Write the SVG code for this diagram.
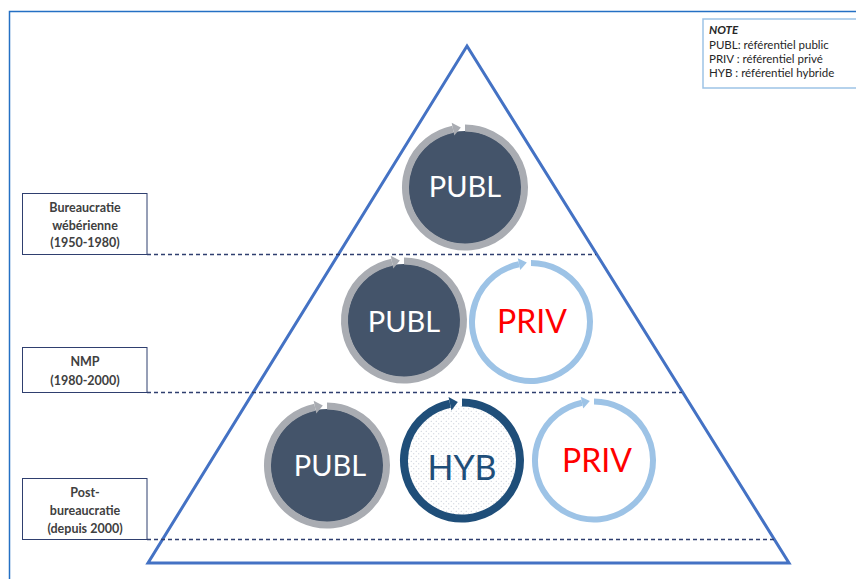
<svg xmlns="http://www.w3.org/2000/svg" width="856" height="579" viewBox="0 0 856 579">
<style>
.frame{stroke:#2470C4;stroke-width:1.5;fill:none}
.tri{stroke:#4472C4;stroke-width:3;fill:none;stroke-linejoin:miter}
.dash{stroke:#2F3F6F;stroke-width:1.3;stroke-dasharray:4 3;fill:none}
.lbox{fill:#fff;stroke:#2F3F6F;stroke-width:1}
.ltxt{font-family:Lato,"Liberation Sans",sans-serif;font-weight:bold;font-size:12.5px;fill:#404040;text-anchor:middle}
.note{fill:#fff;stroke:#9DC3E6;stroke-width:1.5}
.ntxt{font-family:Lato,"Liberation Sans",sans-serif;font-size:11.5px;fill:#262626}
.pubfill{fill:#44546A}
.ring-g{stroke:#A9ACB2;stroke-width:7;fill:none;marker-end:url(#ah-g)}
.ring-b{stroke:#9DC3E6;stroke-width:6;fill:none;marker-end:url(#ah-b)}
.ring-d{stroke:#1F4E79;stroke-width:8;fill:none;marker-end:url(#ah-d)}
.ctxt{font-family:Lato,"Liberation Sans",sans-serif;text-anchor:middle}
.publ{fill:#fff;font-size:29px}
.priv{fill:#FF0000;font-size:32px}
.hyb{fill:#1F4E79;font-size:34px}
</style>
<defs>
<marker id="ah-g" viewBox="-1 -8 10 16" markerWidth="10" markerHeight="16" refX="0" refY="0" markerUnits="userSpaceOnUse" orient="auto"><path d="M0,-6.5 L8,0 L0,6.5 z" fill="#A9ACB2"/></marker>
<marker id="ah-b" viewBox="-1 -8 10 16" markerWidth="10" markerHeight="16" refX="0" refY="0" markerUnits="userSpaceOnUse" orient="auto"><path d="M0,-6 L8,0 L0,6 z" fill="#9DC3E6"/></marker>
<marker id="ah-d" viewBox="-1 -8 10 16" markerWidth="10" markerHeight="16" refX="0" refY="0" markerUnits="userSpaceOnUse" orient="auto"><path d="M0,-7 L8,0 L0,7 z" fill="#1F4E79"/></marker>
<pattern id="dots" width="5" height="5" patternUnits="userSpaceOnUse">
<rect width="5" height="5" fill="#fff"/>
<circle cx="1.25" cy="1.25" r="0.55" fill="#BAC1CE"/>
<circle cx="3.75" cy="3.75" r="0.55" fill="#BAC1CE"/>
</pattern>
</defs>
<rect width="856" height="579" fill="#fff"/>
<g id="frame">
<path class="frame" d="M9.5,579 L9.5,11.5 L856,11.5"/>
</g>
<g id="note">
<rect class="note" x="703" y="19" width="160" height="69"/>
<text class="ntxt" x="709" y="34" font-weight="bold" font-style="italic">NOTE</text>
<text class="ntxt" x="709" y="49">PUBL: référentiel public</text>
<text class="ntxt" x="709" y="63">PRIV : référentiel privé</text>
<text class="ntxt" x="709" y="77">HYB : référentiel hybride</text>
</g>
<g id="pyramid">
<polygon class="tri" points="467,46 789,563 148,563"/>
</g>
<g id="connectors">
<line class="dash" x1="147" y1="254.5" x2="596" y2="254.5"/>
<line class="dash" x1="147" y1="392.5" x2="682" y2="392.5"/>
<line class="dash" x1="147" y1="539.5" x2="774" y2="539.5"/>
</g>
<g id="label-weber">
<rect class="lbox" x="22.5" y="193.5" width="124.5" height="61"/>
<text class="ltxt" x="85" y="212">Bureaucratie</text>
<text class="ltxt" x="85" y="230">wébérienne</text>
<text class="ltxt" x="85" y="247">(1950-1980)</text>
</g>
<g id="label-nmp">
<rect class="lbox" x="22.5" y="347.5" width="124.5" height="45"/>
<text class="ltxt" x="85" y="366">NMP</text>
<text class="ltxt" x="85" y="385">(1980-2000)</text>
</g>
<g id="label-post">
<rect class="lbox" x="22.5" y="478.5" width="124.5" height="61"/>
<text class="ltxt" x="85" y="497">Post-</text>
<text class="ltxt" x="85" y="515">bureaucratie</text>
<text class="ltxt" x="85" y="533">(depuis 2000)</text>
</g>
<g id="publ-top">
<circle class="pubfill" cx="465" cy="187.5" r="56.5"/>
<path class="ring-g" d="M465,128 A59.5,59.5 0 1 1 453,129.22"/>
<text class="ctxt publ" x="465" y="197">PUBL</text>
</g>
<g id="publ-mid">
<circle class="pubfill" cx="404" cy="320.5" r="56.5"/>
<path class="ring-g" d="M404,261 A59.5,59.5 0 1 1 392,262.22"/>
<text class="ctxt publ" x="404" y="332">PUBL</text>
</g>
<g id="priv-mid">
<circle fill="#fff" cx="531" cy="322" r="56"/>
<path class="ring-b" d="M531,263 A59,59 0 1 1 519,264.23"/>
<text class="ctxt priv" x="532" y="333">PRIV</text>
</g>
<g id="publ-bot">
<circle class="pubfill" cx="327" cy="465.5" r="56.5"/>
<path class="ring-g" d="M327,406 A59.5,59.5 0 1 1 315,407.22"/>
<text class="ctxt publ" x="330" y="476">PUBL</text>
</g>
<g id="hyb-bot">
<circle fill="url(#dots)" cx="462" cy="460.5" r="54.5"/>
<path class="ring-d" d="M462,402.5 A58,58 0 1 1 450,403.75"/>
<text class="ctxt hyb" x="462" y="480">HYB</text>
</g>
<g id="priv-bot">
<circle fill="#fff" cx="594" cy="460.5" r="56"/>
<path class="ring-b" d="M594,401.5 A59,59 0 1 1 582,402.73"/>
<text class="ctxt priv" x="597" y="472">PRIV</text>
</g>
</svg>
